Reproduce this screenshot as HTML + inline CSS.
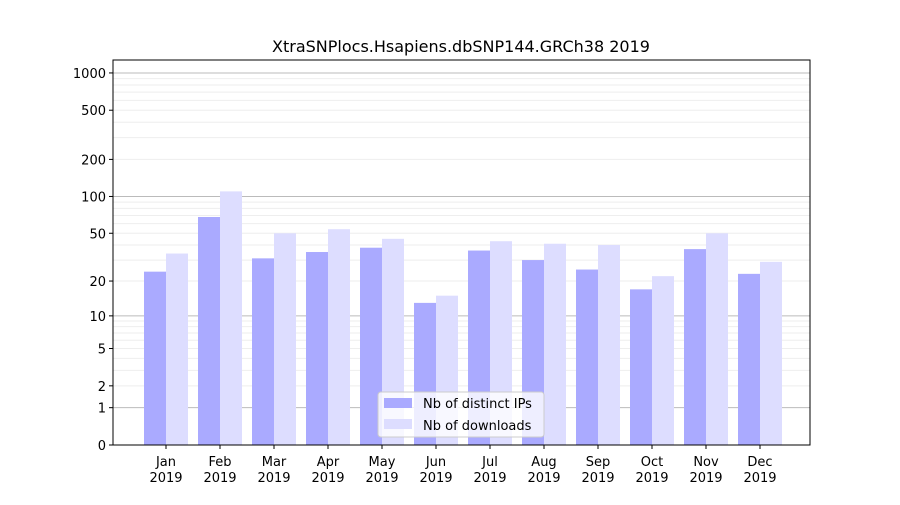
<!DOCTYPE html>
<html><head><meta charset="utf-8"><style>
body{margin:0;background:#fff;font-family:"Liberation Sans","DejaVu Sans",sans-serif}
</style></head><body>
<svg id="chart" width="900" height="500" xmlns="http://www.w3.org/2000/svg" font-family="DejaVu Sans, Liberation Sans, sans-serif">
<rect width="900" height="500" fill="#fff"/>
<text x="461" y="52" font-size="16" text-anchor="middle">XtraSNPlocs.Hsapiens.dbSNP144.GRCh38 2019</text>
<g id="grid"></g><g id="bars"></g><g id="axes"></g>
</svg>
<script>
const months=["Jan","Feb","Mar","Apr","May","Jun","Jul","Aug","Sep","Oct","Nov","Dec"];
const distinctIPs=[24,68,31,35,38,13,36,30,25,17,37,23];
const downloads=[34,110,50,54,45,15,43,41,40,22,50,29];
const tickValues=[0,1,2,5,10,20,50,100,200,500,1000];
const tickLabels=["0","1","2","5","10","20","50","100","200","500","1000"];
const NS="http://www.w3.org/2000/svg";
const L=113,R=810,T=60,B=445;
function y(v){return B-124*Math.log10(1+v);}
function xc(i){return 166+i*54;}
function mk(tag,attrs,parent,text){const e=document.createElementNS(NS,tag);for(const k in attrs)e.setAttribute(k,attrs[k]);if(text!==undefined)e.textContent=text;parent.appendChild(e);return e;}
const grid=document.getElementById('grid'),bars=document.getElementById('bars'),axes=document.getElementById('axes');
// minor grid
[3,4,6,7,8,9,30,40,60,70,80,90,300,400,600,700,800,900].concat([2,5,20,50,200,500]).forEach(v=>{
  const g=mk('line',{x1:L,x2:R,y1:y(v),y2:y(v),stroke:'#eeeeee','stroke-width':1},grid);
  
  
});
[1,10,100,1000].forEach(v=>{
  const g=mk('line',{x1:L,x2:R,y1:y(v),y2:y(v),stroke:'#bbbbbb','stroke-width':1},grid);
  
  
});
months.forEach((m,i)=>{
  const a=mk('rect',{x:xc(i)-22,y:y(distinctIPs[i]),width:22,height:B-y(distinctIPs[i]),fill:'#aaaaff'},bars);
  
  
  const b=mk('rect',{x:xc(i),y:y(downloads[i]),width:22,height:B-y(downloads[i]),fill:'#ddddff'},bars);
  
  
  mk('line',{x1:xc(i),x2:xc(i),y1:B,y2:B+4,stroke:'#000'},axes);
  const t=mk('text',{x:xc(i),y:B+21,'font-size':13,'text-anchor':'middle'},axes,m);
  
  
  const t2=mk('text',{x:xc(i),y:B+37,'font-size':13,'text-anchor':'middle'},axes,'2019');
  
  
});
tickValues.forEach((v,i)=>{
  mk('line',{x1:L-4,x2:L,y1:y(v),y2:y(v),stroke:'#000'},axes);
  const t=mk('text',{x:L-7,y:y(v)+5,'font-size':13,'text-anchor':'end'},axes,tickLabels[i]);
  
  
});
const fr=mk('rect',{x:L,y:T,width:R-L,height:B-T,fill:'none',stroke:'#000','stroke-width':1},axes);


const lg=mk('g',{},axes);


mk('rect',{x:378,y:392,width:166,height:45,fill:'#fff','fill-opacity':0.8,stroke:'#ccc',rx:3},lg);
mk('rect',{x:384,y:398,width:28,height:10,fill:'#aaaaff'},lg);
mk('text',{x:423,y:408,'font-size':13},lg,'Nb of distinct IPs');
mk('rect',{x:384,y:419,width:28,height:10,fill:'#ddddff'},lg);
mk('text',{x:423,y:430,'font-size':13},lg,'Nb of downloads');
</script>
</body></html>
